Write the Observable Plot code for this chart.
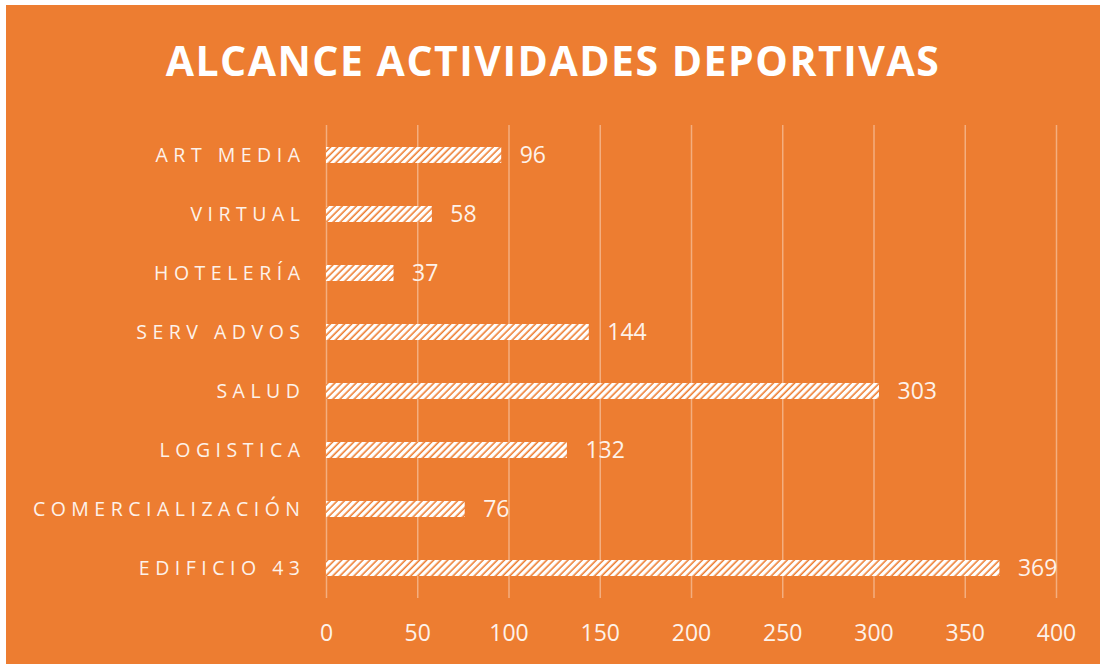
<!DOCTYPE html>
<html>
<head>
<meta charset="utf-8">
<script src="https://cdn.jsdelivr.net/npm/d3@7"></script>
<script src="https://cdn.jsdelivr.net/npm/@observablehq/plot@0.6"></script>
<style>
  html, body { margin: 0; padding: 0; background: #ffffff; }
  #panel {
    position: absolute; left: 6px; top: 5px; width: 1094px; height: 659px;
    background: #ED7D31; overflow: hidden;
  }
  #title {
    height: 100px; line-height: 110px; text-align: center;
    font-family: "Open Sans", sans-serif; font-weight: 700; font-size: 41px;
    letter-spacing: 1.5px; color: #ffffff;
  }
</style>
</head>
<body>
<div id="panel">
  <div id="title">ALCANCE ACTIVIDADES DEPORTIVAS</div>
  <div id="chart"></div>
</div>
<script>
const categories = ["ART MEDIA", "VIRTUAL", "HOTELERÍA", "SERV ADVOS", "SALUD", "LOGISTICA", "COMERCIALIZACIÓN", "EDIFICIO 43"];
const values = [96, 58, 37, 144, 303, 132, 76, 369];
const xTicks = [0, 50, 100, 150, 200, 250, 300, 350, 400];

const data = categories.map((c, i) => ({category: c, value: values[i]}));

const chart = Plot.plot({
  width: 1094,
  height: 559,
  marginLeft: 320,
  marginRight: 44,
  marginTop: 20,
  marginBottom: 66,
  style: {background: "transparent", color: "#fdf2ea", fontFamily: "'Open Sans', sans-serif"},
  x: {domain: [0, 400], ticks: xTicks, label: null},
  y: {domain: categories, label: null, paddingInner: 0.73, paddingOuter: 0.365},
  marks: [
    Plot.gridX(xTicks, {stroke: "#ffffff", strokeOpacity: 0.38, strokeWidth: 1.5}),
    Plot.barX(data, {x: "value", y: "category", fill: "url(#hatch)"}),
    Plot.text(data, {x: "value", y: "category", text: d => String(d.value), dx: 18, textAnchor: "start", fontSize: 23, fill: "#fdf2ea"}),
    Plot.axisX(xTicks, {tickSize: 0, tickPadding: 26, fontSize: 23, label: null, fill: "#fdf2ea"}),
    Plot.axisY({tickSize: 0, tickPadding: 21, fontSize: 19.5, label: null, fill: "#fdf2ea"})
  ]
});

// hatch pattern
const ns = "http://www.w3.org/2000/svg";
const defs = document.createElementNS(ns, "defs");
defs.innerHTML = `<pattern id="hatch" patternUnits="userSpaceOnUse" width="5" height="5" patternTransform="rotate(45)">
  <rect width="5" height="5" fill="#ED7D31"></rect>
  <rect x="0" y="0" width="3.4" height="5" fill="#ffffff"></rect>
</pattern>`;
chart.insertBefore(defs, chart.firstChild);
chart.querySelectorAll("g[aria-label='y-axis tick label'] text").forEach(t => t.setAttribute("letter-spacing", "5.5"));
document.getElementById("chart").appendChild(chart);
</script>
</body>
</html>
